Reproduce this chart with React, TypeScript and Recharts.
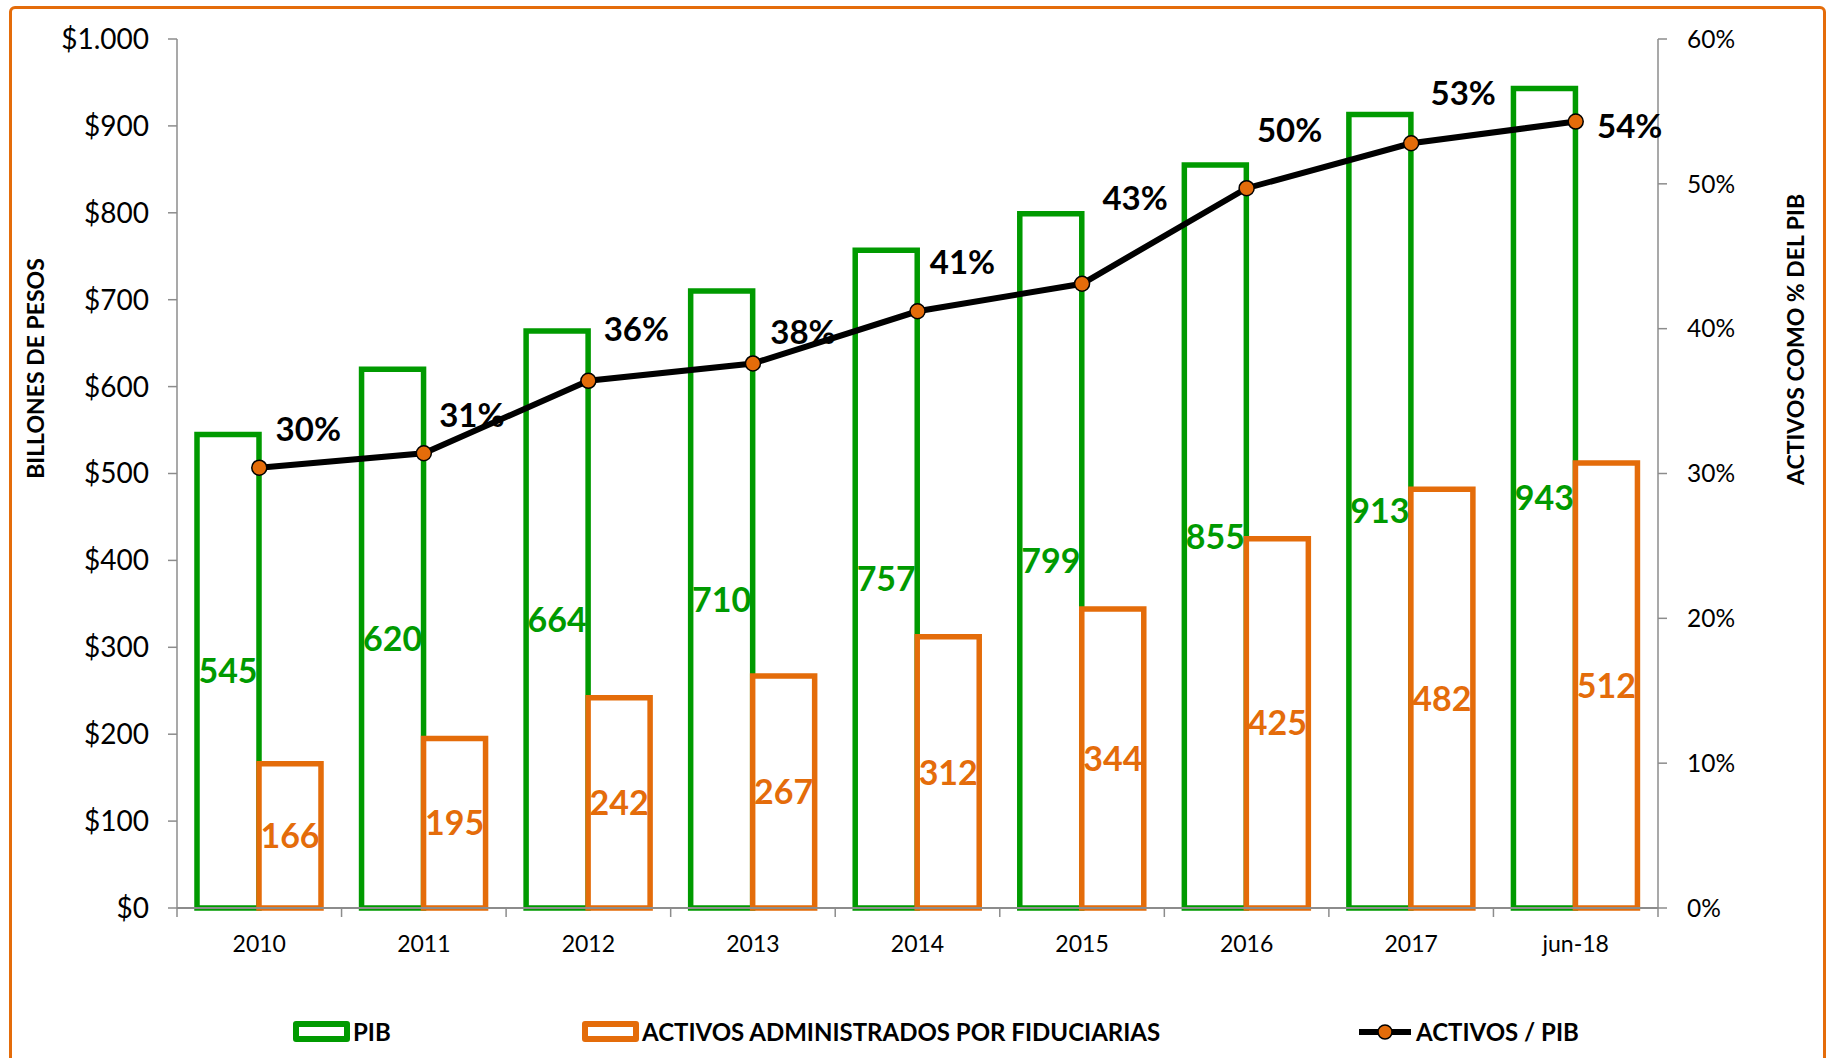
import React from 'react'
import {
  ComposedChart,
  Bar,
  Line,
  XAxis,
  YAxis,
  LabelList,
} from 'recharts'

// datos
const periodos = ['2010', '2011', '2012', '2013', '2014', '2015', '2016', '2017', 'jun-18']
const pib = [545, 620, 664, 710, 757, 799, 855, 913, 943]
const activos = [166, 195, 242, 267, 312, 344, 425, 482, 512]
const activosPib = [30.4, 31.4, 36.4, 37.6, 41.2, 43.1, 49.7, 52.8, 54.3]

const ticksPesos = [0, 100, 200, 300, 400, 500, 600, 700, 800, 900, 1000]
const ticksPct = [0, 10, 20, 30, 40, 50, 60]

const data = periodos.map((p, i) => ({
  periodo: p,
  pib: pib[i],
  activos: activos[i],
  ratio: activosPib[i],
}))

const W = 1829
const H = 1058
const LEFT_W = 177
const RIGHT_W = 171
const GREEN = '#009A00'
const ORANGE = '#E46C0A'
const AXIS = '#8C8C8C'
const FONT = 'Lato, "Open Sans", sans-serif'

// desplazamiento de las etiquetas de la línea (como en el original, ajustadas a mano)
const ratioLabelShift = [
  [49, -40], [48, -39], [48, -53], [50, -32], [45, -50],
  [53, -87], [43, -59], [52, -51], [54, 3],
]

const pesos = (v: number) => {
  if (v >= 1000) return '$' + Math.floor(v / 1000) + '.' + String(v % 1000).padStart(3, '0')
  return '$' + v
}

const bandW = (W - LEFT_W - RIGHT_W) / periodos.length

function XTick(props: any) {
  const { x, y, payload, index } = props
  const last = index === periodos.length - 1
  return (
    <g>
      <line x1={x - bandW / 2} x2={x - bandW / 2} y1={y} y2={y + 9} stroke={AXIS} strokeWidth={1.5} />
      {last && <line x1={x + bandW / 2} x2={x + bandW / 2} y1={y} y2={y + 9} stroke={AXIS} strokeWidth={1.5} />}
      <text x={x} y={y + 35} textAnchor="middle" dominantBaseline="central" fontSize={23} fill="#000" fontFamily={FONT}>
        {payload.value}
      </text>
    </g>
  )
}

function RatioLabel(props: any) {
  const { x, y, value, index } = props
  const [dx, dy] = ratioLabelShift[index] || [50, -45]
  return (
    <text x={x + dx} y={y + dy} textAnchor="middle" dominantBaseline="central" fontSize={33} fontWeight={700} fill="#000" fontFamily={FONT}>
      {Math.round(value)}%
    </text>
  )
}

// títulos de eje girados, un poco por encima del centro como en el original
function AxisTitle({ viewBox, text, side }: any) {
  const cx = side === 'left' ? 35 : W - 34
  const cy = viewBox.y + viewBox.height / 2 + (side === 'left' ? -105 : -134)
  return (
    <text
      x={cx}
      y={cy}
      transform={`rotate(-90, ${cx}, ${cy})`}
      textAnchor="middle"
      dominantBaseline="central"
      fontSize={23}
      fontWeight={700}
      fill="#000"
      fontFamily={FONT}
    >
      {text}
    </text>
  )
}

function LegendItem({ kind, label }: { kind: 'pib' | 'act' | 'line'; label: string }) {
  return (
    <div style={{ display: 'flex', alignItems: 'center', gap: 3 }}>
      {kind === 'line' ? (
        <svg width={56} height={20}>
          <line x1={2} x2={54} y1={10} y2={10} stroke="#000" strokeWidth={6} />
          <circle cx={28} cy={10} r={7} fill={ORANGE} stroke="#000" strokeWidth={1.5} />
        </svg>
      ) : (
        <div
          style={{
            width: 45,
            height: 9,
            border: `6px solid ${kind === 'pib' ? GREEN : ORANGE}`,
            borderRadius: 3,
            background: '#fff',
          }}
        />
      )}
      <span style={{ fontSize: 24, fontWeight: 700, color: '#000', fontFamily: FONT, whiteSpace: 'nowrap' }}>{label}</span>
    </div>
  )
}

export default function App() {
  return (
    <div style={{ position: 'absolute', left: 0, top: 0, width: W, height: H, overflow: 'hidden', background: '#fff', fontFamily: FONT }}>
      <div
        style={{
          position: 'absolute',
          left: 9,
          top: 6,
          width: 1811,
          height: 1100,
          border: `3px solid ${ORANGE}`,
          borderRadius: 6,
        }}
      />
      <ComposedChart
        width={W}
        height={H}
        data={data}
        margin={{ top: 39, right: 0, bottom: 90, left: 0 }}
        barGap={0}
        style={{ position: 'absolute', left: 0, top: 0 }}
      >
        <XAxis
          dataKey="periodo"
          height={60}
          axisLine={{ stroke: AXIS, strokeWidth: 2 }}
          tickLine={false}
          tickSize={0}
          tickMargin={0}
          tick={<XTick />}
          interval={0}
        />
        <YAxis
          yAxisId="left"
          width={LEFT_W}
          domain={[0, 1000]}
          ticks={ticksPesos}
          tickFormatter={pesos}
          axisLine={{ stroke: AXIS, strokeWidth: 1.5 }}
          tickLine={{ stroke: AXIS, strokeWidth: 1.5 }}
          tickSize={9}
          tickMargin={19}
          tick={{ fontSize: 28, fill: '#000', fontFamily: FONT }}
          label={<AxisTitle text="BILLONES DE PESOS" side="left" />}
        />
        <YAxis
          yAxisId="right"
          orientation="right"
          width={RIGHT_W}
          domain={[0, 60]}
          ticks={ticksPct}
          tickFormatter={(v: number) => v + '%'}
          axisLine={{ stroke: AXIS, strokeWidth: 1.5 }}
          tickLine={{ stroke: AXIS, strokeWidth: 1.5 }}
          tickSize={9}
          tickMargin={20}
          tick={{ fontSize: 24.5, fill: '#000', fontFamily: FONT }}
          label={<AxisTitle text="ACTIVOS COMO % DEL PIB" side="right" />}
        />
        <Bar yAxisId="left" dataKey="pib" barSize={62} fill="#fff" stroke={GREEN} strokeWidth={5.5} isAnimationActive={false}>
          <LabelList dataKey="pib" position="center" fill={GREEN} fontSize={34} fontWeight={700} fontFamily={FONT} />
        </Bar>
        <Bar yAxisId="left" dataKey="activos" barSize={62} fill="#fff" stroke={ORANGE} strokeWidth={5.5} isAnimationActive={false}>
          <LabelList dataKey="activos" position="center" fill={ORANGE} fontSize={34} fontWeight={700} fontFamily={FONT} />
        </Bar>
        <Line
          yAxisId="right"
          dataKey="ratio"
          stroke="#000"
          strokeWidth={6}
          dot={{ r: 7.5, fill: ORANGE, stroke: '#000', strokeWidth: 1.5 }}
          isAnimationActive={false}
        >
          <LabelList dataKey="ratio" content={<RatioLabel />} />
        </Line>
      </ComposedChart>
      <div style={{ position: 'absolute', top: 1017, left: 293 }}>
        <LegendItem kind="pib" label="PIB" />
      </div>
      <div style={{ position: 'absolute', top: 1017, left: 582 }}>
        <LegendItem kind="act" label="ACTIVOS ADMINISTRADOS POR FIDUCIARIAS" />
      </div>
      <div style={{ position: 'absolute', top: 1017, left: 1357 }}>
        <LegendItem kind="line" label="ACTIVOS / PIB" />
      </div>
    </div>
  )
}
